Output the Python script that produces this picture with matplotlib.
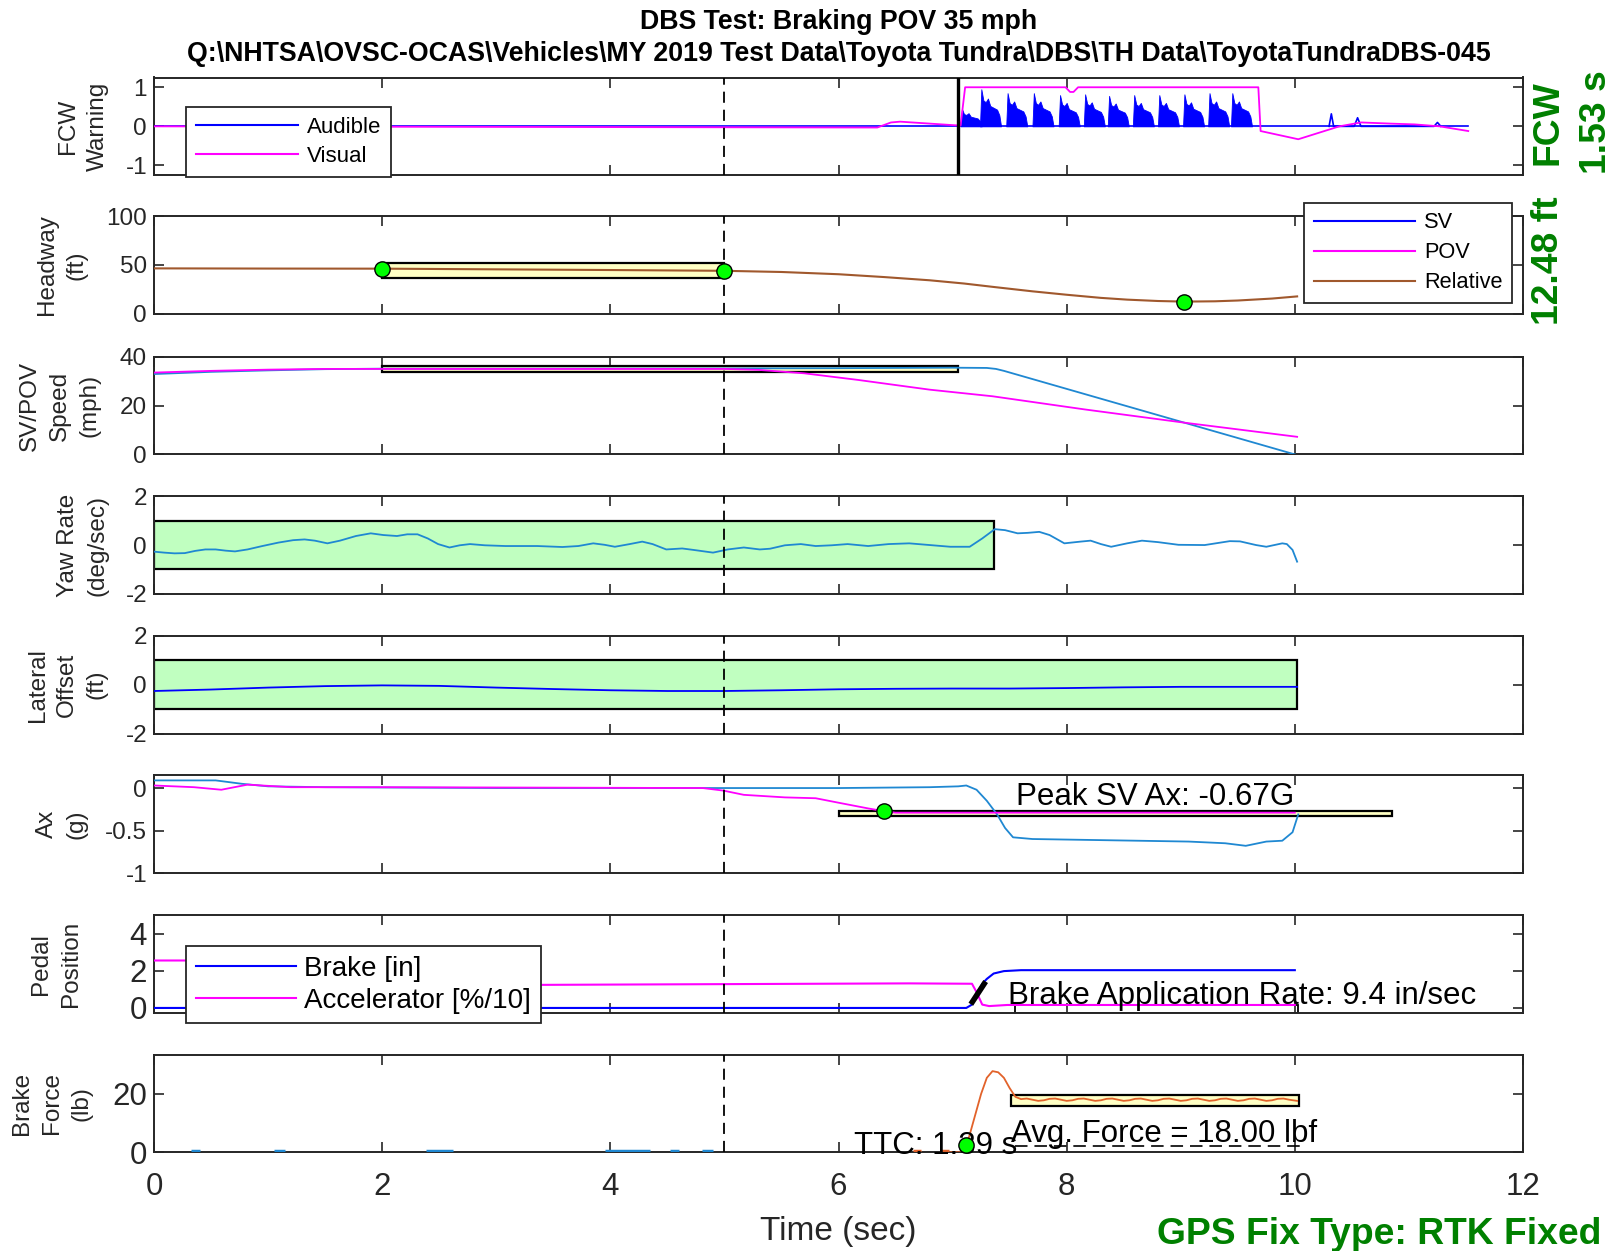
import matplotlib
matplotlib.use("Agg")
import matplotlib.pyplot as plt
from matplotlib.patches import Rectangle
from matplotlib.lines import Line2D
from matplotlib.ticker import FuncFormatter

plt.rcParams['font.family'] = ['Liberation Sans', 'DejaVu Sans']
plt.rcParams['axes.unicode_minus'] = False
plt.rcParams['lines.scale_dashes'] = False

# ---------------- data ----------------
x_ticks = [0, 2, 4, 6, 8, 10, 12]

# FCW warning
visual_t = [0, 6.34, 6.46, 6.54, 7.01, 7.07, 7.11, 7.99, 8.03, 8.06, 8.10, 9.68, 9.70,
            10.03, 10.39, 10.58, 10.84, 11.05, 11.27, 11.52]
visual_v = [0, -0.03, 0.10, 0.12, 0.03, 0.02, 1.0, 1.0, 0.88, 0.88, 1.0, 1.0, -0.12,
            -0.33, 0.0, 0.10, 0.07, 0.05, 0.0, -0.12]
audible_base_t = [0, 11.52]
audible_base_v = [0, 0]
pulse_start = [7.07, 7.24, 7.47, 7.70, 7.93, 8.15, 8.36, 8.58, 8.80, 9.02, 9.24, 9.44]
pulse_peak = [0.45, 0.95, 0.85, 0.85, 0.80, 0.82, 0.78, 0.80, 0.80, 0.82, 0.85, 0.85]
pulse_shape_t = [0.0, 0.012, 0.03, 0.05, 0.07, 0.09, 0.12, 0.15, 0.17, 0.185]
pulse_shape_v = [0.0, 1.0, 0.70, 0.65, 0.75, 0.55, 0.50, 0.45, 0.30, 0.0]
blip_t = [10.30, 10.32, 10.34, 10.52, 10.55, 10.58, 11.22, 11.25, 11.28]
blip_v = [0.0, 0.32, 0.0, 0.0, 0.22, 0.0, 0.0, 0.10, 0.0]
fcw_time = 7.05

# Headway
head_t = [0, 1, 2, 3, 4, 5, 5.5, 6.0, 6.4, 6.8, 7.1, 7.35, 7.7, 8.0, 8.3, 8.53, 8.8,
          9.03, 9.3, 9.5, 9.8, 10.02]
head_v = [46.5, 46.3, 46.2, 45.5, 44.8, 44.0, 42.8, 40.5, 37.6, 34.3, 31.0, 27.6, 23.0,
          19.5, 16.3, 14.5, 13.1, 12.48, 12.8, 13.6, 15.6, 17.8]
head_dots_t = [2.0, 5.0, 9.03]
head_dots_v = [46.2, 44.0, 12.48]

# Speed
sv_speed_t = [0, 0.5, 1.0, 1.5, 2.0, 3.0, 5.0, 6.0, 7.0, 7.3, 7.38, 7.45, 10.0]
sv_speed_v = [32.9, 33.8, 34.4, 34.9, 35.1, 35.1, 35.2, 35.3, 35.5, 35.4, 35.0, 34.2, 0.0]
pov_speed_t = [0, 0.5, 1.0, 1.5, 2.0, 5.0, 5.3, 5.7, 6.17, 6.5, 6.8, 7.35, 8.16, 9.03, 10.02]
pov_speed_v = [33.5, 34.2, 34.7, 35.0, 35.0, 35.0, 34.6, 33.2, 30.5, 28.4, 26.5, 23.8, 18.4,
               13.0, 7.2]

# Yaw rate
yaw_t = [0.00, 0.09, 0.18, 0.27, 0.36, 0.45, 0.54, 0.63, 0.71, 0.82, 0.95, 1.09, 1.22,
         1.32, 1.41, 1.52, 1.63, 1.77, 1.90, 2.01, 2.13, 2.22, 2.31, 2.40, 2.49, 2.59,
         2.68, 2.77, 2.90, 3.08, 3.36, 3.58, 3.72, 3.85, 3.95, 4.04, 4.17, 4.28, 4.37,
         4.49, 4.63, 4.73, 4.90, 5.03, 5.17, 5.31, 5.40, 5.53, 5.67, 5.80, 5.94, 6.08,
         6.26, 6.44, 6.62, 6.80, 6.98, 7.15, 7.26, 7.37, 7.46, 7.57, 7.66, 7.76, 7.85,
         7.98, 8.12, 8.21, 8.30, 8.39, 8.53, 8.66, 8.80, 8.98, 9.21, 9.43, 9.52, 9.66,
         9.75, 9.89, 9.93, 9.98, 10.02]
yaw_v = [-0.27, -0.31, -0.34, -0.33, -0.24, -0.18, -0.18, -0.23, -0.26, -0.18, -0.04,
         0.10, 0.20, 0.23, 0.18, 0.07, 0.18, 0.37, 0.48, 0.41, 0.37, 0.44, 0.44, 0.27,
         0.04, -0.10, -0.01, 0.04, -0.01, -0.04, -0.04, -0.08, -0.04, 0.07, 0.01, -0.07,
         0.04, 0.14, 0.04, -0.18, -0.14, -0.20, -0.31, -0.18, -0.10, -0.18, -0.15, -0.01,
         0.04, -0.04, -0.01, 0.04, -0.04, 0.04, 0.07, 0.00, -0.07, -0.07, 0.27, 0.65,
         0.61, 0.48, 0.50, 0.54, 0.41, 0.07, 0.14, 0.18, 0.04, -0.07, 0.07, 0.18, 0.12,
         0.01, 0.00, 0.16, 0.15, 0.00, -0.07, 0.07, 0.04, -0.20, -0.68]

# Lateral offset
lat_t = [0, 0.5, 1.0, 1.5, 2.0, 2.5, 3.0, 3.5, 4.0, 4.5, 5.0, 5.5, 6.0, 6.5, 7.0, 7.5,
         8.0, 8.5, 9.0, 9.5, 10.02]
lat_v = [-0.26, -0.20, -0.12, -0.06, -0.03, -0.05, -0.12, -0.18, -0.23, -0.26, -0.26,
         -0.23, -0.19, -0.17, -0.16, -0.16, -0.14, -0.11, -0.09, -0.09, -0.09]

# Longitudinal acceleration
sv_ax_t = [0, 0.54, 0.77, 1.0, 1.5, 3.0, 5.0, 6.0, 6.8, 7.05, 7.12, 7.21, 7.30, 7.39,
           7.46, 7.53, 7.7, 8.16, 8.62, 9.07, 9.39, 9.57, 9.75, 9.89, 9.98, 10.03]
sv_ax_v = [0.09, 0.09, 0.05, 0.02, 0.01, 0.0, 0.0, 0.0, 0.01, 0.02, 0.03, -0.02, -0.15,
           -0.31, -0.47, -0.58, -0.60, -0.61, -0.62, -0.63, -0.65, -0.68, -0.63, -0.62,
           -0.52, -0.31]
pov_ax_t = [0, 0.35, 0.59, 0.82, 1.2, 2.0, 4.81, 4.99, 5.17, 5.53, 5.8, 5.99, 6.26, 6.39,
            6.5, 10.0]
pov_ax_v = [0.03, 0.01, -0.02, 0.04, 0.01, 0.01, 0.0, -0.03, -0.08, -0.11, -0.12, -0.17,
            -0.24, -0.27, -0.29, -0.29]
peak_ax_dot = (6.4, -0.27)

# Pedals
brake_t = [0, 7.12, 7.17, 7.22, 7.26, 7.30, 7.36, 7.45, 7.6, 8.5, 10.0]
brake_v = [0.0, 0.0, 0.18, 0.8, 1.3, 1.56, 1.85, 1.98, 2.03, 2.03, 2.03]
accel_t = [0, 0.3, 1.0, 1.6, 3.37, 5.0, 6.62, 7.17, 7.21, 7.26, 7.32, 7.48, 10.0]
accel_v = [2.55, 2.55, 2.5, 1.3, 1.24, 1.28, 1.32, 1.30, 0.85, 0.18, 0.10, 0.16, 0.16]
rate_seg_t = [7.16, 7.29]
rate_seg_v = [0.2, 1.42]

# Brake force
force_t = [6.98, 7.10, 7.12, 7.15, 7.20, 7.25, 7.30, 7.35, 7.40, 7.45, 7.50, 7.55,
           7.60, 7.65, 7.70, 7.75, 7.80, 7.85, 7.90, 7.95, 8.00, 8.05, 8.10, 8.15,
           8.20, 8.25, 8.30, 8.35, 8.40, 8.45, 8.50, 8.55, 8.60, 8.65, 8.70, 8.75,
           8.80, 8.85, 8.90, 8.95, 9.00, 9.05, 9.10, 9.15, 9.20, 9.25, 9.30, 9.35,
           9.40, 9.45, 9.50, 9.55, 9.60, 9.65, 9.70, 9.75, 9.80, 9.85, 9.90, 9.95, 10.02]
force_v = [0, 0, 2, 6, 13, 20, 25.5, 27.8, 27.4, 25.5, 22, 19.0,
           18.2, 18.4, 18.0, 17.6, 17.8, 18.3, 18.4, 18.0, 17.6, 17.8, 18.3, 18.4,
           18.0, 17.6, 17.8, 18.3, 18.4, 18.0, 17.6, 17.8, 18.3, 18.4, 18.0, 17.6,
           17.8, 18.3, 18.4, 18.0, 17.6, 17.8, 18.3, 18.4, 18.0, 17.6, 17.8, 18.3,
           18.4, 18.0, 17.6, 17.8, 18.3, 18.4, 18.0, 17.6, 17.8, 18.3, 18.4, 18.0, 17.6]
force_dash_blue = [(0.32, 0.40), (1.05, 1.15), (2.38, 2.62), (3.95, 4.35), (4.52, 4.60),
                   (4.80, 4.90)]
force_dash_orange = [(6.65, 6.72), (6.90, 6.97)]
ttc_dot = (7.12, 2.5)

# ---------------- styling ----------------
W, H = 1621, 1251
LEFT, RIGHT = 154, 1523
TOPS = [77.5, 216.1, 356.7, 496.2, 635.8, 775.3, 914.9, 1054.5]
PH = 97.7
AXC = '#262626'
LBLUE = '#1F88D2'
MAG = '#FF00FF'
BLUE = '#0000FF'
BROWN = '#A0582D'
ORANGE = '#E2622A'
GREEN_TXT = '#008000'
BOX_GREEN = '#C0FFC0'
BOX_YELLOW = '#FFFFC4'
ANN_FS = 22.5

fig = plt.figure(figsize=(W / 100, H / 100), dpi=100)


def make_ax(i, yticks, ylim, fs, ylabel, label_x):
    top = TOPS[i]
    ax = fig.add_axes([LEFT / W, 1 - (top + PH) / H, (RIGHT - LEFT) / W, PH / H])
    ax.set_xlim(0, 12)
    ax.set_ylim(*ylim)
    ax.set_xticks(x_ticks)
    ax.set_yticks(yticks)
    ax.tick_params(direction='in', top=True, right=True, length=7, width=1.2,
                   colors=AXC, labelsize=fs, pad=5)
    if i < 7:
        ax.tick_params(labelbottom=False)
    for s in ax.spines.values():
        s.set_color(AXC)
        s.set_linewidth(1.4)
    ax.set_ylabel(ylabel, fontsize=17.5, color=AXC, linespacing=1.45, va='center')
    ax.yaxis.set_label_coords((label_x - LEFT) / (RIGHT - LEFT), 0.5)
    ax.axvline(5, color='black', lw=1.3, dashes=(8, 5), zorder=6)
    return ax


# Panel 1: FCW warning
ax1 = make_ax(0, [-1, 0, 1], (-1.25, 1.25), 17.5, 'FCW\nWarning', 82.7)
ax1.plot(audible_base_t, audible_base_v, color=BLUE, lw=1.2, zorder=3)
for ts, pk in zip(pulse_start, pulse_peak):
    ax1.fill_between([ts + d for d in pulse_shape_t], 0, [pk * s for s in pulse_shape_v],
                     color=BLUE, lw=0.6, zorder=3)
ax1.plot(blip_t, blip_v, color=BLUE, lw=1.2, zorder=3)
ax1.plot(visual_t, visual_v, color=MAG, lw=1.3, zorder=4)
ax1.axvline(fcw_time, color='black', lw=2.4, zorder=7)
leg1 = ax1.legend([Line2D([], [], color=BLUE, lw=1.5), Line2D([], [], color=MAG, lw=1.5)],
                  ['Audible', 'Visual'], loc='lower left', bbox_to_anchor=(0.0234, -0.016),
                  fontsize=16, handlelength=4.57, handletextpad=0.4, borderpad=0.45,
                  labelspacing=0.35, borderaxespad=0, fancybox=False, framealpha=1,
                  edgecolor=AXC)
leg1.get_frame().set_linewidth(1.3)
leg1.set_zorder(10)

# Panel 2: Headway
ax2 = make_ax(1, [0, 50, 100], (0, 100), 17.5, 'Headway\n(ft)', 62)
ax2.add_patch(Rectangle((2.0, 37.0), 3.0, 15.5, facecolor=BOX_YELLOW, edgecolor='black',
                        lw=1.6, zorder=2))
ax2.plot(head_t, head_v, color=BROWN, lw=1.5, zorder=3)
ax2.plot(head_dots_t, head_dots_v, 'o', color='#00FF00', mec='black', mew=1.0, ms=11, zorder=8)
leg2 = ax2.legend([Line2D([], [], color=BLUE, lw=1.5), Line2D([], [], color=MAG, lw=1.5),
                   Line2D([], [], color=BROWN, lw=1.5)], ['SV', 'POV', 'Relative'],
                  loc='upper right', bbox_to_anchor=(0.9923, 1.138), fontsize=15.7,
                  handlelength=4.66, handletextpad=0.4, borderpad=0.45, labelspacing=0.41,
                  borderaxespad=0, fancybox=False, framealpha=1, edgecolor=AXC)
leg2.get_frame().set_linewidth(1.3)
leg2.set_zorder(10)

# Panel 3: Speed
ax3 = make_ax(2, [0, 20, 40], (0, 40), 17.5, 'SV/POV\nSpeed\n(mph)', 60)
ax3.add_patch(Rectangle((2.0, 33.7), 5.05, 2.3, facecolor=BOX_YELLOW, edgecolor='black',
                        lw=1.6, zorder=2))
ax3.plot(sv_speed_t, sv_speed_v, color=LBLUE, lw=1.3, zorder=3)
ax3.plot(pov_speed_t, pov_speed_v, color=MAG, lw=1.3, zorder=4)

# Panel 4: Yaw rate
ax4 = make_ax(3, [-2, 0, 2], (-2, 2), 17.5, 'Yaw Rate\n(deg/sec)', 82.7)
ax4.add_patch(Rectangle((0, -1), 7.36, 2, facecolor=BOX_GREEN, edgecolor='black', lw=1.6,
                        zorder=2))
ax4.plot(yaw_t, yaw_v, color=LBLUE, lw=1.3, zorder=3)

# Panel 5: Lateral offset
ax5 = make_ax(4, [-2, 0, 2], (-2, 2), 17.5, 'Lateral\nOffset\n(ft)', 67.2)
ax5.add_patch(Rectangle((0, -1), 10.02, 2, facecolor=BOX_GREEN, edgecolor='black', lw=1.6,
                        zorder=2))
ax5.plot(lat_t, lat_v, color=BLUE, lw=1.3, zorder=3)

# Panel 6: Ax
ax6 = make_ax(5, [-1, -0.5, 0], (-1, 0.15), 17.5, 'Ax\n(g)', 62)
ax6.yaxis.set_major_formatter(FuncFormatter(lambda v, p: '%g' % v))
ax6.add_patch(Rectangle((6.0, -0.325), 4.85, 0.05, facecolor=BOX_YELLOW, edgecolor='black',
                        lw=1.6, zorder=2))
ax6.plot(sv_ax_t, sv_ax_v, color=LBLUE, lw=1.3, zorder=3)
ax6.plot(pov_ax_t, pov_ax_v, color=MAG, lw=1.3, zorder=4)
ax6.plot(*peak_ax_dot, 'o', color='#00FF00', mec='black', mew=1.0, ms=11, zorder=8)
ax6.text(7.56, -0.1, 'Peak SV Ax: -0.67G', fontsize=ANN_FS, va='center', ha='left', zorder=9)

# Panel 7: Pedal position
ax7 = make_ax(6, [0, 2, 4], (-0.25, 5), 22.5, 'Pedal\nPosition', 55.8)
ax7.add_patch(Rectangle((7.55, -0.25), 2.48, 0.4, facecolor='none', edgecolor='black',
                        lw=1.3, zorder=2))
ax7.plot(brake_t, brake_v, color=BLUE, lw=1.5, zorder=3)
ax7.plot(accel_t, accel_v, color=MAG, lw=1.5, zorder=4)
ax7.plot(rate_seg_t, rate_seg_v, color='black', lw=4, solid_capstyle='butt', zorder=6)
ax7.text(7.49, 0.62, 'Brake Application Rate: 9.4 in/sec', fontsize=ANN_FS, va='center',
         ha='left', zorder=9)
leg7 = ax7.legend([Line2D([], [], color=BLUE, lw=1.5), Line2D([], [], color=MAG, lw=1.5)],
                  ['Brake [in]', 'Accelerator [%/10]'], loc='lower left',
                  bbox_to_anchor=(0.0234, -0.11), fontsize=20, handlelength=3.6,
                  handletextpad=0.3, borderpad=0.35, labelspacing=0.2, borderaxespad=0,
                  fancybox=False, framealpha=1, edgecolor=AXC)
leg7.get_frame().set_linewidth(1.3)
leg7.set_zorder(10)

# Panel 8: Brake force
ax8 = make_ax(7, [0, 20], (0, 33.5), 22.5, 'Brake\nForce\n(lb)', 51.7)
ax8.tick_params(axis='x', pad=14)
for a, b in force_dash_blue:
    ax8.plot([a, b], [0.3, 0.3], color=LBLUE, lw=2.5, solid_capstyle='butt', zorder=3)
for a, b in force_dash_orange:
    ax8.plot([a, b], [0.3, 0.3], color=ORANGE, lw=2.5, solid_capstyle='butt', zorder=3)
ax8.add_patch(Rectangle((7.51, 16.0), 2.53, 3.7, facecolor=BOX_YELLOW, edgecolor='black',
                        lw=1.6, zorder=2))
ax8.plot(force_t, force_v, color=ORANGE, lw=1.3, zorder=3)
ax8.plot([7.55, 10.05], [2.0, 2.0], color='black', lw=1.2, dashes=(9, 5), zorder=4)
ax8.text(6.14, 2.2, 'TTC: 1.39 s', fontsize=ANN_FS, va='center', ha='left', zorder=5)
ax8.plot(*ttc_dot, 'o', color='#00FF00', mec='black', mew=1.0, ms=11, zorder=8)
ax8.text(7.51, 6.1, 'Avg. Force = 18.00 lbf', fontsize=ANN_FS, va='center', ha='left',
         zorder=9)
ax8.set_xlabel('Time (sec)', fontsize=24, color=AXC, labelpad=10)

# Titles and side annotations
cx = (LEFT + RIGHT) / 2 / W
fig.text(cx, 1 - 21.6 / H, 'DBS Test: Braking POV 35 mph', ha='center', va='center',
         fontsize=19.3, fontweight='bold')
fig.text(cx, 1 - 53.7 / H,
         'Q:\\NHTSA\\OVSC-OCAS\\Vehicles\\MY 2019 Test Data\\Toyota Tundra\\DBS\\TH Data\\ToyotaTundraDBS-045',
         ha='center', va='center', fontsize=19.3, fontweight='bold')
fig.text(1548 / W, 1 - 123 / H, 'FCW', rotation=90, ha='center', va='center', fontsize=26.8,
         fontweight='bold', color=GREEN_TXT)
fig.text(1597 / W, 1 - 122 / H, '1.53 s', rotation=90, ha='center', va='center',
         fontsize=26.8, fontweight='bold', color=GREEN_TXT)
fig.text(1548 / W, 1 - 260.5 / H, '12.48 ft', rotation=90, ha='center', va='center',
         fontsize=26.8, fontweight='bold', color=GREEN_TXT)
fig.text(1601 / W, 1 - 1235 / H, 'GPS Fix Type: RTK Fixed', ha='right', va='center',
         fontsize=26.8, fontweight='bold', color=GREEN_TXT)

fig.savefig('out.png', dpi=100)
